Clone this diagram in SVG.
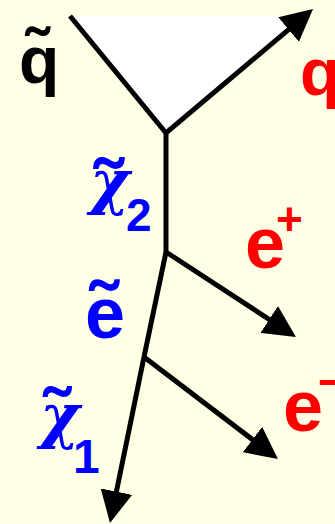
<svg xmlns="http://www.w3.org/2000/svg" width="335" height="524" viewBox="0 0 335 524">
<defs>
<marker id="arr" markerUnits="userSpaceOnUse" markerWidth="32" markerHeight="32" refX="22" refY="16" orient="auto" viewBox="0 0 32 32">
<path d="M0,0 L32,16 L0,32 z" fill="#000"/>
</marker>
<style>
.ln{fill:none;stroke:#000;stroke-width:5;stroke-linejoin:miter}
.sans{font-family:"Liberation Sans",Arial,sans-serif;font-weight:bold}
.greek{font-family:"DejaVu Serif",serif;font-style:italic;font-weight:bold}
.tl{font-family:"Liberation Sans",Arial,sans-serif;font-weight:bold;text-anchor:middle}
.blk{fill:#000}
.red{fill:#FF0000}
.blue{fill:#0000FF}
</style>
</defs>
<rect x="0" y="0" width="335" height="524" fill="#FFFFE6"/>
<polygon points="70,16 305,16 166,133" fill="#FFFFFF"/>
<g id="connectors">
<polyline class="ln" points="70,16 166,133 305.4,15.4" marker-end="url(#arr)"/>
<line class="ln" x1="166" y1="133" x2="166" y2="252"/>
<line class="ln" x1="166" y1="252" x2="287.6" y2="331.5" marker-end="url(#arr)"/>
<line class="ln" x1="166" y1="252" x2="144" y2="357"/>
<line class="ln" x1="144" y1="357" x2="270" y2="452.9" marker-end="url(#arr)"/>
<line class="ln" x1="144" y1="357" x2="112" y2="513.2" marker-end="url(#arr)"/>
</g>
<g id="squark"><text class="tl blk" x="36.5" y="76" font-size="68">˜</text><text class="sans blk" x="19" y="83" font-size="66">q</text></g>
<g id="quark"><text class="sans red" x="300" y="95" font-size="66">q</text></g>
<g id="chi2"><text class="tl blue" x="107.5" y="217" font-size="84">˜</text><text class="greek blue" x="90" y="203" font-size="60">χ</text><text class="sans blue" x="126" y="231" font-size="46">2</text></g>
<g id="selectron"><text class="tl blue" x="103" y="338" font-size="82">˜</text><text class="sans blue" x="85" y="338" font-size="72">e</text></g>
<g id="eplus"><text class="sans red" x="245" y="268" font-size="72">e</text><text class="sans red" x="276" y="235" font-size="46">+</text></g>
<g id="eminus"><text class="sans red" x="283" y="431" font-size="72">e</text><text class="sans red" x="318" y="398" font-size="46">−</text></g>
<g id="chi1"><text class="tl blue" x="56" y="442" font-size="78">˜</text><text class="greek blue" x="40" y="437" font-size="60">χ</text><text class="sans blue" x="73" y="473" font-size="48">1</text></g>
</svg>
